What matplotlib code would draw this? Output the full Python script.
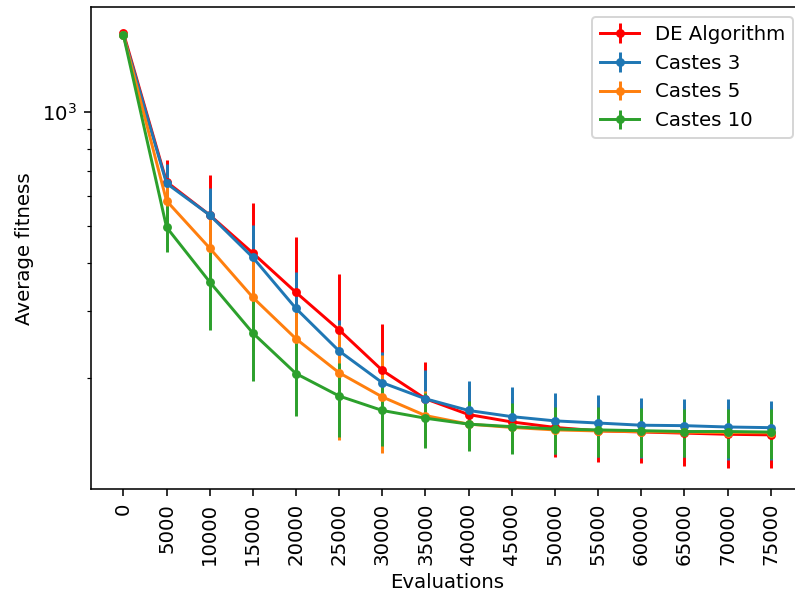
import matplotlib
matplotlib.use("Agg")
from matplotlib import pyplot as plt

evaluations = [0, 5000, 10000, 15000, 20000, 25000, 30000, 35000,
               40000, 45000, 50000, 55000, 60000, 65000, 70000, 75000]

#mean fitness per algorithm
de_mean = [1610, 654, 535, 425, 335, 267, 209, 176, 160, 153, 148, 145, 144, 143, 142, 141.5]
c3_mean = [1590, 648, 535, 414, 304, 235, 194, 176, 164, 158, 154, 152, 150, 149.6, 148.4, 147.8]
c5_mean = [1590, 583, 438, 325, 253, 206, 178, 159, 151, 148, 145.8, 144.9, 144.3, 143.8, 143.5, 143.3]
c10_mean = [1590, 497, 357, 262, 205, 179, 164, 156.5, 151, 148.7, 146.6, 145.8, 145.1, 144.4, 144.4, 143.9]

#standard deviations (error bars)
de_std = [12, 93, 147, 151, 133, 107, 68, 44, 30, 25, 24, 25, 25, 26, 26, 26]
c3_std = [10, 80, 94, 90, 74, 49, 39, 34, 32, 31, 28, 28, 27, 26, 27, 26]
c5_std = [10, 72, 92, 90, 51, 69, 51, 25, 19, 18, 18, 18, 18, 18, 18, 18]
c10_std = [10, 68, 90, 66, 46, 39, 32, 25.5, 22.3, 22.6, 20.5, 21.8, 21.5, 20.8, 21.5, 21.5]

series = [("DE Algorithm", de_mean, de_std, "red"),
          ("Castes 3", c3_mean, c3_std, "tab:blue"),
          ("Castes 5", c5_mean, c5_std, "tab:orange"),
          ("Castes 10", c10_mean, c10_std, "tab:green")]

fig = plt.figure(figsize=(795 / 142, 594 / 142), dpi=142)
ax = fig.add_axes([0.1145, 0.1763, 0.8956, 0.8119])

for name, mean, std, color in series:
    ax.errorbar(evaluations, mean, yerr=std, label=name, color=color,
                marker="o", markersize=3.5)

ax.set_yscale("log")
ax.set_ylim(101.8, 1884)
ax.set_xticks(evaluations)
ax.set_xticklabels([str(e) for e in evaluations], rotation=90)
ax.set_xlabel("Evaluations")
ax.set_ylabel("Average fitness")
ax.legend(loc="upper right")

fig.savefig("out.png", dpi=142)
